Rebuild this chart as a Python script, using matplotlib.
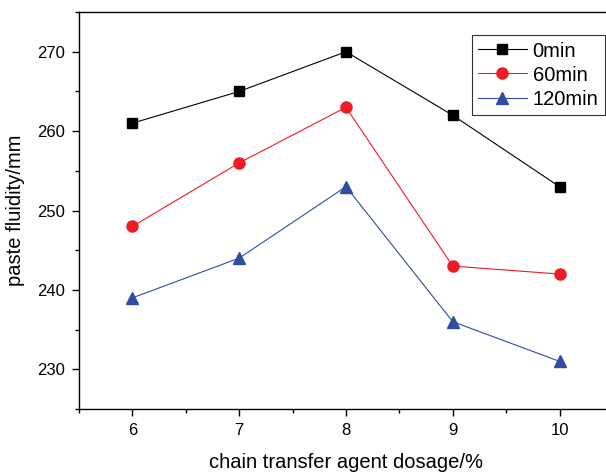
import matplotlib
matplotlib.use("Agg")
import matplotlib.pyplot as plt
from matplotlib.ticker import MultipleLocator

plt.rcParams["font.family"] = ["Liberation Sans", "DejaVu Sans"]

dosage = [6, 7, 8, 9, 10]
fluidity_0 = [261, 265, 270, 262, 253]
fluidity_60 = [248, 256, 263, 243, 242]
fluidity_120 = [239, 244, 253, 236, 231]

fig = plt.figure(figsize=(6.06, 4.72), dpi=100)
ax = fig.add_axes([0.1304, 0.1335, 0.881, 0.841])

ax.plot(dosage, fluidity_0, color="black", marker="s", markersize=7,
        linewidth=0.8, label="0min")
ax.plot(dosage, fluidity_60, color="#ee1c24", marker="o", markersize=8,
        linewidth=0.8, label="60min")
ax.plot(dosage, fluidity_120, color="#2f4ea2", marker="^", markersize=8.5,
        linewidth=0.8, label="120min")

ax.set_xlim(5.5, 10.5)
ax.set_ylim(225, 275)
ax.xaxis.set_major_locator(MultipleLocator(1))
ax.xaxis.set_minor_locator(MultipleLocator(0.5))
ax.yaxis.set_major_locator(MultipleLocator(10))
ax.yaxis.set_minor_locator(MultipleLocator(5))
ax.tick_params(which="both", direction="out", labelsize=12, width=1)
ax.tick_params(which="major", length=5, pad=5)
ax.tick_params(which="minor", length=3)
ax.spines["right"].set_visible(False)
for s in ["left", "bottom", "top"]:
    ax.spines[s].set_linewidth(1)

ax.set_xlabel("chain transfer agent dosage/%", fontsize=14.5, labelpad=11)
ax.set_ylabel("paste fluidity/mm", fontsize=14.5, labelpad=9)

leg = ax.legend(loc="upper right", bbox_to_anchor=(0.985, 0.942), fontsize=14.5,
                fancybox=False, edgecolor="black", handlelength=2.4,
                handletextpad=0.3, borderpad=0.32, labelspacing=0.25,
                borderaxespad=0)
leg.get_frame().set_linewidth(0.8)

fig.savefig("out.png", dpi=100)
